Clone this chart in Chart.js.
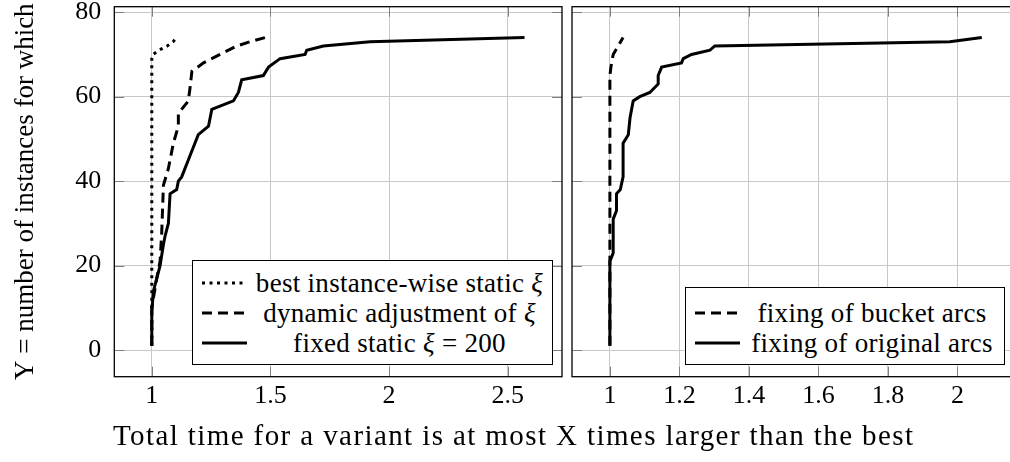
<!DOCTYPE html>
<html>
<head>
<meta charset="utf-8">
<script src="https://cdn.jsdelivr.net/npm/chart.js@4.4.1/dist/chart.umd.min.js"></script>
<style>
    html, body { margin: 0; padding: 0; background: #fff; overflow: hidden; }
    body { width: 1010px; height: 462px; position: relative; font-family: 'Liberation Serif', serif; color: #000; }
    #leftChart { position: absolute; left: 0; top: 0; }
    #rightChart { position: absolute; left: 567px; top: 0; }
    .legend { position: absolute; background: #fff; border: 1px solid #000; font-size: 27px; letter-spacing: 0.3px; box-sizing: border-box; }
    .legend .row { display: flex; align-items: center; height: 30px; }
    .legend svg { margin-left: 9px; flex: none; }
    .legend .txt { flex: 1; text-align: center; white-space: nowrap; }
    #xTitle { position: absolute; left: 113px; top: 419px; font-size: 29px; letter-spacing: 1.4px; white-space: nowrap; }
</style>
</head>
<body>
<canvas id="leftChart" width="565" height="420"></canvas>
<canvas id="rightChart" width="460" height="420"></canvas>

<!-- legend, left panel -->
<div class="legend" style="left:192px; top:260px; width:361px; height:105px; padding-top:7px;">
    <div class="row">
        <svg width="45" height="8"><line x1="0" y1="4" x2="45" y2="4" stroke="#000" stroke-width="3" stroke-dasharray="3 4.5"/></svg>
        <span class="txt">best instance-wise static <i>ξ</i></span>
    </div>
    <div class="row">
        <svg width="45" height="8"><line x1="0" y1="4" x2="45" y2="4" stroke="#000" stroke-width="3" stroke-dasharray="10 6"/></svg>
        <span class="txt">dynamic adjustment of <i>ξ</i></span>
    </div>
    <div class="row">
        <svg width="45" height="8"><line x1="0" y1="4" x2="45" y2="4" stroke="#000" stroke-width="3"/></svg>
        <span class="txt">fixed static <i>ξ</i> = 200</span>
    </div>
</div>

<!-- legend, right panel -->
<div class="legend" style="left:685px; top:287px; width:320px; height:78px; padding-top:10px;">
    <div class="row">
        <svg width="45" height="8"><line x1="0" y1="4" x2="45" y2="4" stroke="#000" stroke-width="3" stroke-dasharray="10 6"/></svg>
        <span class="txt">fixing of bucket arcs</span>
    </div>
    <div class="row">
        <svg width="45" height="8"><line x1="0" y1="4" x2="45" y2="4" stroke="#000" stroke-width="3"/></svg>
        <span class="txt">fixing of original arcs</span>
    </div>
</div>

<div id="xTitle">Total time for a variant is at most X times larger than the best</div>

<script>
// --- data ---
// left panel
const bestX = [1, 1, 1.005, 1.03, 1.065, 1.09, 1.105];
const bestY = [1, 69, 70, 71, 72, 73, 74];

const dynX = [1, 1, 1.021, 1.035, 1.042, 1.049, 1.07, 1.091, 1.112, 1.112, 1.154, 1.161, 1.169, 1.218, 1.288, 1.358, 1.414, 1.478];
const dynY = [1, 10, 17, 21, 28, 39, 43, 49, 53, 56, 59, 62, 66, 68, 70, 72, 73, 74];

const fixX = [1, 1, 1.007, 1.021, 1.035, 1.049, 1.056, 1.07, 1.077, 1.105, 1.112, 1.126, 1.154, 1.161, 1.196, 1.239, 1.253, 1.344, 1.365, 1.379, 1.47, 1.492, 1.541, 1.646, 1.653, 1.723, 1.92, 2.571];
const fixY = [1, 9, 14, 17, 20, 25, 27, 30, 37, 38, 40, 41, 45, 46, 51, 53, 57, 59, 61, 64, 65, 67, 69, 70, 71, 72, 73, 74];

// right panel
const bucketX = [1, 1, 1.003, 1.0095, 1.024, 1.038];
const bucketY = [1, 65, 67, 70, 72, 74];

const origX = [1, 1, 1.0095, 1.0095, 1.019, 1.019, 1.03, 1.038, 1.038, 1.053, 1.058, 1.067, 1.086, 1.115, 1.139, 1.139, 1.149, 1.206, 1.211, 1.235, 1.288, 1.302, 1.978, 2.07];
const origY = [1, 21, 23, 31, 33, 37, 38, 41, 49, 51, 55, 59, 60, 61, 63, 65, 67, 68, 69, 70, 71, 72, 73, 74];

// tick labels
const leftXTicks = [1, 1.5, 2, 2.5];
const rightXTicks = [1, 1.2, 1.4, 1.6, 1.8, 2];
const yTicks = [0, 20, 40, 60, 80];

const FONT = { family: "'Liberation Serif', serif", size: 26 };
const GRID = '#c8c8c8';
const TICK_LEN = 10;

const pts = (xs, ys) => xs.map((x, i) => ({ x: x, y: ys[i] }));

const line = (label, xs, ys, dash) => ({
    label: label,
    data: pts(xs, ys),
    showLine: true,
    borderColor: '#000',
    backgroundColor: '#000',
    borderWidth: 3,
    borderDash: dash,
    borderCapStyle: 'butt',
    borderJoinStyle: 'miter',
    pointRadius: 0,
    tension: 0
});

// axis box plus the small inward tick marks
const frame = {
    id: 'frame',
    afterDraw(chart) {
        const { ctx, chartArea: a, scales } = chart;
        ctx.save();
        ctx.strokeStyle = '#808080';
        ctx.lineWidth = 1;
        ctx.beginPath();
        scales.x.ticks.forEach(t => {
            const px = Math.round(scales.x.getPixelForValue(t.value)) + 0.5;
            ctx.moveTo(px, a.top); ctx.lineTo(px, a.top + TICK_LEN);
            ctx.moveTo(px, a.bottom); ctx.lineTo(px, a.bottom - TICK_LEN);
        });
        scales.y.ticks.forEach(t => {
            const py = Math.round(scales.y.getPixelForValue(t.value)) + 0.5;
            ctx.moveTo(a.left, py); ctx.lineTo(a.left + TICK_LEN, py);
            ctx.moveTo(a.right, py); ctx.lineTo(a.right - TICK_LEN, py);
        });
        ctx.stroke();
        ctx.strokeStyle = '#000';
        ctx.lineWidth = 1.3;
        ctx.strokeRect(a.left, a.top, a.width, a.height);
        ctx.restore();
    }
};

function makeScales(xMin, xMax, xTicks, showY) {
    return {
        x: {
            type: 'linear',
            min: xMin,
            max: xMax,
            afterBuildTicks: s => { s.ticks = xTicks.map(v => ({ value: v })); },
            afterFit: s => { s.height = 43.3; s.paddingLeft = 0; s.paddingRight = 0; },
            grid: { color: GRID, lineWidth: 1, drawTicks: false },
            border: { display: false },
            ticks: { color: '#000', font: FONT, padding: 4, maxRotation: 0, autoSkip: false, callback: v => String(v) }
        },
        y: {
            type: 'linear',
            min: -6.3,
            max: 81.3,
            afterBuildTicks: s => { s.ticks = yTicks.map(v => ({ value: v })); },
            afterFit: s => { s.width = showY ? 107.3 : 0; s.paddingTop = 0; s.paddingBottom = 0; },
            grid: { color: GRID, lineWidth: 1, drawTicks: false },
            border: { display: false },
            ticks: { display: showY, color: '#000', font: FONT, padding: 13, callback: v => String(v) },
            title: {
                display: showY,
                text: 'Y = number of instances for which',
                color: '#000',
                font: { family: FONT.family, size: 27 },
                padding: { top: 3, bottom: 0 }
            }
        }
    };
}

const common = {
    responsive: false,
    animation: false,
    devicePixelRatio: 1,
    plugins: { legend: { display: false }, tooltip: { enabled: false } }
};

new Chart(document.getElementById('leftChart'), {
    type: 'scatter',
    data: {
        datasets: [
            line('best instance-wise static ξ', bestX, bestY, [3, 4.5]),
            line('dynamic adjustment of ξ', dynX, dynY, [10, 6]),
            line('fixed static ξ = 200', fixX, fixY, [])
        ]
    },
    options: Object.assign({}, common, {
        layout: { padding: { left: 7, right: 3, top: 6.7, bottom: 0 } },
        scales: makeScales(0.842, 2.729, leftXTicks, true)
    }),
    plugins: [frame]
});

new Chart(document.getElementById('rightChart'), {
    type: 'scatter',
    data: {
        datasets: [
            line('fixing of bucket arcs', bucketX, bucketY, [10, 6]),
            line('fixing of original arcs', origX, origY, [])
        ]
    },
    options: Object.assign({}, common, {
        layout: { padding: { left: 5, right: 7, top: 6.7, bottom: 0 } },
        scales: makeScales(0.891, 2.18, rightXTicks, false)
    }),
    plugins: [frame]
});
</script>
</body>
</html>
